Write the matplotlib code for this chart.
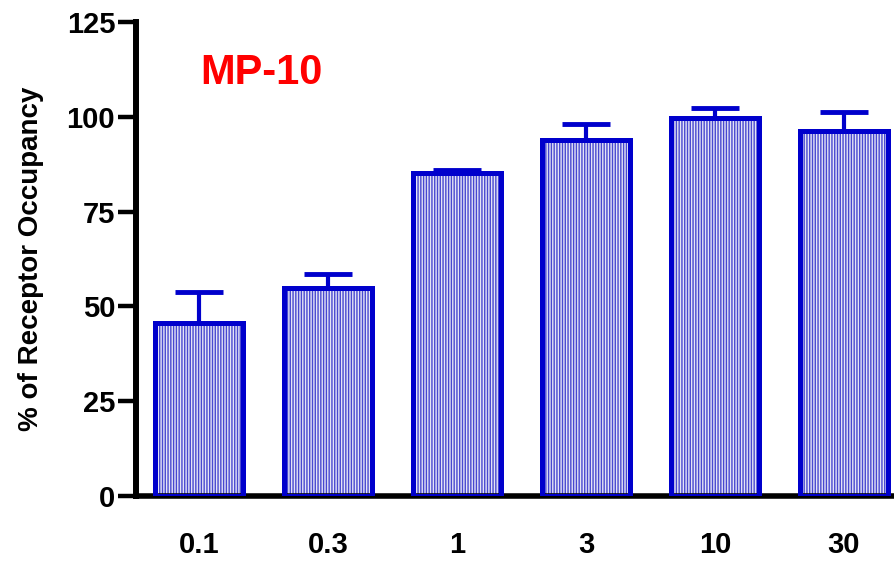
import matplotlib
matplotlib.use("Agg")
import matplotlib.pyplot as plt
import numpy as np

categories = ["0.1", "0.3", "1", "3", "10", "30"]
occupancy = [45.5, 54.8, 85.3, 94.0, 99.8, 96.3]
sem = [8.4, 3.7, 0.8, 4.0, 2.6, 5.0]
yticks = [0, 25, 50, 75, 100, 125]
title = "MP-10"
ylabel = "% of Receptor Occupancy"

plt.rcParams['font.family'] = ['Liberation Sans', 'DejaVu Sans']
plt.rcParams['font.weight'] = 'bold'
plt.rcParams['hatch.linewidth'] = 1.0

blue = '#0000cc'
fig = plt.figure(figsize=(8.94, 5.61), dpi=100)
W, H = 894, 561
ax = fig.add_axes([136 / W, (561 - 496) / H, (894 - 136) / W, (496 - 22) / H])

x = np.arange(len(categories))
ax.bar(x, occupancy, width=0.68, facecolor='#e4e4f6', edgecolor='#4848d0',
       hatch='||||||', linewidth=0, zorder=2)
ax.bar(x, occupancy, width=0.68, facecolor='none', edgecolor=blue,
       linewidth=3.6, zorder=3)
ax.errorbar(x, occupancy, yerr=[np.zeros(len(sem)), sem], fmt='none',
            ecolor=blue, elinewidth=3, capsize=17, capthick=3.5, zorder=3)

ax.set_xlim(-0.49, 5.39)
ax.set_ylim(0, 125)
ax.set_yticks(yticks)
ax.set_yticklabels([str(t) for t in yticks], fontsize=21, fontweight='bold')
ax.set_xticks(x)
ax.set_xticklabels(categories, fontsize=21, fontweight='bold')
ax.tick_params(axis='y', length=13, width=3.2, pad=2)
ax.tick_params(axis='x', length=0, pad=25)

for s in ['top', 'right']:
    ax.spines[s].set_visible(False)
ax.spines['left'].set_linewidth(4.3)
ax.spines['bottom'].set_linewidth(4)
ax.spines['left'].set_bounds(0, 125)

ax.set_ylabel(ylabel, fontsize=20, fontweight='bold', labelpad=16)
ax.text(261 / W, 1 - 73 / H, title, transform=fig.transFigure, color='#ff0000',
        fontsize=30, fontweight='bold', ha='center', va='center')

fig.savefig("out.png", dpi=100)
